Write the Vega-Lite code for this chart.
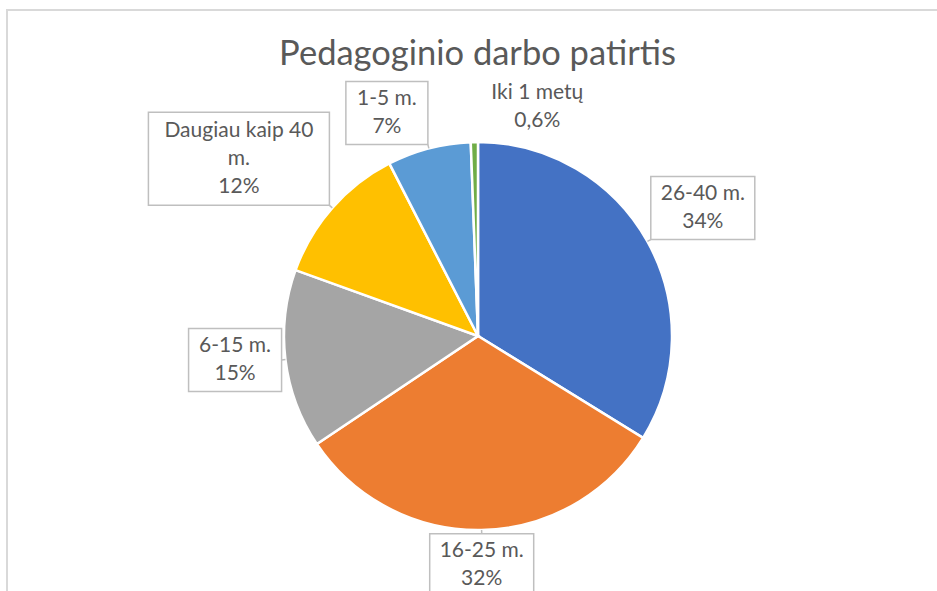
{
  "$schema": "https://vega.github.io/schema/vega-lite/v6.json",
  "width": 931,
  "height": 582,
  "autosize": {"type": "none"},
  "padding": {"left": 7, "top": 10, "right": 0, "bottom": 0},
  "background": "white",
  "config": {"view": {"stroke": "#d9d9d9", "strokeWidth": 2}, "font": "Lato"},
  "title": {"text": "Pedagoginio darbo patirtis", "font": "Lato", "fontSize": 34.5, "fontWeight": "normal", "color": "#595959", "anchor": "middle", "baseline": "alphabetic", "offset": -89, "dx": 5},
  "data": {"values": [
    {"label": "26-40 m.", "pct": "34%", "value": 34},
    {"label": "16-25 m.", "pct": "32%", "value": 32},
    {"label": "6-15 m.", "pct": "15%", "value": 15},
    {"label": "Daugiau kaip 40 m.", "pct": "12%", "value": 12},
    {"label": "1-5 m.", "pct": "7%", "value": 7},
    {"label": "Iki 1 metų", "pct": "0,6%", "value": 0.6}
  ]},
  "transform": [
    {"window": [{"op": "row_number", "as": "i"}]},
    {"joinaggregate": [{"op": "sum", "field": "value", "as": "total"}]},
    {"window": [{"op": "sum", "field": "value", "as": "cum"}], "sort": [{"field": "i"}], "frame": [null, 0]},
    {"calculate": "(datum.cum - datum.value / 2) / datum.total * 2 * PI", "as": "mid"},
    {"calculate": "sin(datum.mid)", "as": "sx"},
    {"calculate": "cos(datum.mid)", "as": "sy"},
    {"calculate": "replace(datum.label, 'kaip 40 ', 'kaip 40|') + '|' + datum.pct", "as": "txt"},
    {"calculate": "split(datum.txt, '|')", "as": "lines"},
    {"calculate": "(11 * max(length(datum.lines[0]), datum.lines.length > 1 ? length(datum.lines[1]) : 0, datum.lines.length > 2 ? length(datum.lines[2]) : 0) + 16) / 194", "as": "w"},
    {"calculate": "(30 * datum.lines.length + 3) / 194", "as": "h"},
    {"calculate": "datum.sx > 0.2 || datum.value < 1 ? 0 : (datum.sx < -0.2 ? -1 : -0.5)", "as": "ha"},
    {"calculate": "datum.sy > 0.2 ? 0 : (datum.sy < -0.2 ? -1 : -0.5)", "as": "vb"},
    {"calculate": "1.02 * datum.sx", "as": "ax"},
    {"calculate": "1.02 * datum.sy", "as": "ay"},
    {"calculate": "datum.ax + datum.ha * datum.w", "as": "bx1"},
    {"calculate": "datum.bx1 + datum.w", "as": "bx2"},
    {"calculate": "datum.ay + datum.vb * datum.h", "as": "by1"},
    {"calculate": "datum.by1 + datum.h", "as": "by2"},
    {"calculate": "(datum.bx1 + datum.bx2) / 2", "as": "bx"},
    {"calculate": "(datum.by1 + datum.by2) / 2 + (datum.lines.length - 1) / 2 * 28 / 194", "as": "ty"}
  ],
  "layer": [
    {
      "mark": {"type": "arc", "outerRadius": 194, "stroke": "white", "strokeWidth": 2.5},
      "encoding": {
        "theta": {"field": "value", "type": "quantitative", "stack": true},
        "order": {"field": "i", "type": "quantitative"},
        "color": {"field": "label", "type": "nominal", "legend": null,
          "scale": {"domain": ["26-40 m.", "16-25 m.", "6-15 m.", "Daugiau kaip 40 m.", "1-5 m.", "Iki 1 metų"],
                    "range": ["#4472C4", "#ED7D31", "#A5A5A5", "#FFC000", "#5B9BD5", "#70AD47"]}},
        "x": {"datum": 0, "type": "quantitative", "axis": null, "scale": {"domain": [-2.4278, 2.3711], "nice": false, "zero": false}},
        "y": {"datum": 0, "type": "quantitative", "axis": null, "scale": {"domain": [-1.3196, 1.6804], "nice": false, "zero": false}}
      }
    },
    {
      "transform": [{"filter": "datum.value >= 1"}],
      "mark": {"type": "rule", "stroke": "#bfbfbf", "strokeWidth": 1.5},
      "encoding": {
        "x": {"field": "sx", "type": "quantitative", "axis": null, "scale": {"domain": [-2.4278, 2.3711], "nice": false, "zero": false}},
        "y": {"field": "sy", "type": "quantitative", "axis": null, "scale": {"domain": [-1.3196, 1.6804], "nice": false, "zero": false}},
        "x2": {"field": "ax"},
        "y2": {"field": "ay"}
      }
    },
    {
      "transform": [{"filter": "datum.value >= 1"}],
      "mark": {"type": "rect", "fill": "white", "stroke": "#bfbfbf", "strokeWidth": 1.5},
      "encoding": {
        "x": {"field": "bx1", "type": "quantitative", "axis": null, "scale": {"domain": [-2.4278, 2.3711], "nice": false, "zero": false}},
        "x2": {"field": "bx2"},
        "y": {"field": "by1", "type": "quantitative", "axis": null, "scale": {"domain": [-1.3196, 1.6804], "nice": false, "zero": false}},
        "y2": {"field": "by2"}
      }
    },
    {
      "mark": {"type": "text", "font": "Lato", "fontSize": 21, "color": "#595959", "align": "center", "baseline": "middle", "lineBreak": "|", "lineHeight": 28},
      "encoding": {
        "x": {"field": "bx", "type": "quantitative", "axis": null, "scale": {"domain": [-2.4278, 2.3711], "nice": false, "zero": false}},
        "y": {"field": "ty", "type": "quantitative", "axis": null, "scale": {"domain": [-1.3196, 1.6804], "nice": false, "zero": false}},
        "text": {"field": "txt", "type": "nominal"}
      }
    }
  ]
}
